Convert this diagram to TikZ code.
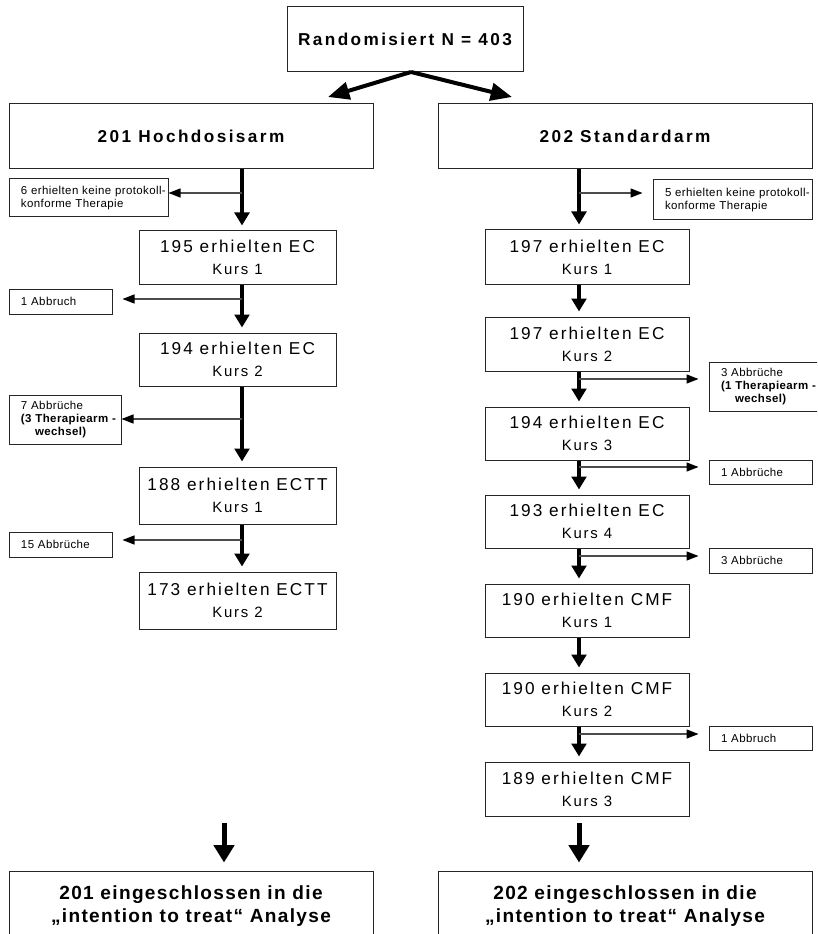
\documentclass[tikz,border=0pt]{standalone}
\usepackage{fontspec}
\setmainfont{Liberation Sans}
\newfontfamily\armfont[LetterSpace=14]{Liberation Sans}
\newfontfamily\stagefont[LetterSpace=12]{Liberation Sans}
\newfontfamily\notefont[LetterSpace=3.5]{Liberation Sans}
\newfontfamily\endfont[LetterSpace=7]{Liberation Sans}
\usetikzlibrary{arrows.meta}

\newcommand\kurs[1]{{\fontsize{11.2}{13}\selectfont Kurs #1}}

\tikzset{
  box/.style={draw=black!85, line width=0.75pt, inner sep=0pt},
  boxsize/.style 2 args={minimum width=#1*0.75pt, minimum height=#2*0.75pt},
  arm/.style={box, align=center, font=\armfont\bfseries\fontsize{12.9}{15}\selectfont},
  stage/.style={box, align=center, font=\stagefont\fontsize{12.9}{16.3}\selectfont},
  note/.style 2 args={box, align=left, inner xsep=9pt, text width=#1,
    minimum height=#2*0.75pt, font=\notefont\fontsize{8.6}{9.6}\selectfont},
  final/.style={box, align=center, font=\endfont\bfseries\fontsize{14.3}{17.3}\selectfont},
  mainarrow/.style={line width=2.8pt, -{Triangle[length=9.75pt,width=11pt]}, shorten >=3.75pt},
  sidearrow/.style={draw=black!70, line width=1pt, -{Triangle[length=9pt,width=6.75pt,color=black]}},
  splitarrow/.style={line width=3pt, -{Triangle[length=16pt,width=13pt]}},
  endarrow/.style={line width=3.75pt, -{Triangle[length=13pt,width=15pt]}, shorten >=6pt}
}

\begin{document}
\begin{tikzpicture}[x=0.75pt,y=-0.75pt]
  \useasboundingbox (0,0) rectangle (817,934);
  \clip (0,0) rectangle (817,934);

  % randomisation
  \node[arm, boxsize={236}{65}] (rand) at (405,39.5) {Randomisiert N = 403};
  \node[arm, boxsize={364}{65}] (hoch) at (191,136.5) {201 Hochdosisarm};
  \node[arm, boxsize={374}{65}] (std) at (625,136.5) {202 Standardarm};
  \coordinate (split) at (411,72);
  \coordinate (toh) at (328,97);
  \coordinate (tos) at (512,97);
  \draw[splitarrow] (split) -- (toh);
  \draw[splitarrow] (split) -- (tos);

  % high dose arm
  \coordinate (lx) at (242,0);
  \node[stage, boxsize={197}{53}] (l1) at (237.5,257.5) {195 erhielten EC\\\kurs{1}};
  \node[stage, boxsize={197}{53}] (l2) at (237.5,359.5) {194 erhielten EC\\\kurs{2}};
  \node[stage, boxsize={197}{57}] (l3) at (237.5,495.5) {188 erhielten ECTT\\\kurs{1}};
  \node[stage, boxsize={197}{57}] (l4) at (237.5,600.5) {173 erhielten ECTT\\\kurs{2}};
  \foreach \a/\b in {hoch/l1, l1/l2, l2/l3, l3/l4}
    \draw[mainarrow] (\a.south -| lx) -- (\b.north -| lx);

  \node[note={101.25pt}{38}] (ls1) at (88.5,198) {\mbox{6 erhielten keine protokoll-}\\konforme Therapie};
  \node[note={59.25pt}{25}] (ls2) at (60.5,301.5) {1 Abbruch};
  \node[note={66pt}{49}] (ls3) at (65,419.5) {7 Abbrüche\\\mbox{\bfseries (3 Therapiearm -}\\\mbox{\hspace*{10.5pt}\bfseries wechsel)}};
  \node[note={59.25pt}{25}] (ls4) at (60.5,544.5) {15 Abbrüche};
  \foreach \y/\n/\g in {193/ls1/0pt, 299/ls2/7.5pt, 419/ls3/0pt, 540/ls4/7.5pt} {
    \coordinate (s\n) at (242,\y);
    \draw[sidearrow, shorten >=\g] (s\n) -- (s\n -| \n.east);
  }

  % standard arm
  \coordinate (rx) at (579,0);
  \node[stage, boxsize={204}{54}] (r1) at (587,257) {197 erhielten EC\\\kurs{1}};
  \node[stage, boxsize={204}{54}] (r2) at (587,344) {197 erhielten EC\\\kurs{2}};
  \node[stage, boxsize={204}{53}] (r3) at (587,433.5) {194 erhielten EC\\\kurs{3}};
  \node[stage, boxsize={204}{53}] (r4) at (587,521.5) {193 erhielten EC\\\kurs{4}};
  \node[stage, boxsize={204}{53}] (r5) at (587,610.5) {190 erhielten CMF\\\kurs{1}};
  \node[stage, boxsize={204}{53}] (r6) at (587,699.5) {190 erhielten CMF\\\kurs{2}};
  \node[stage, boxsize={204}{54}] (r7) at (587,789) {189 erhielten CMF\\\kurs{3}};
  \foreach \a/\b in {std/r1, r1/r2, r2/r3, r3/r4, r4/r5, r5/r6, r6/r7}
    \draw[mainarrow] (\a.south -| rx) -- (\b.north -| rx);

  \node[note={101.25pt}{40}] (rs1) at (732.5,200) {\mbox{5 erhielten keine protokoll-}\\konforme Therapie};
  \node[note={63.75pt}{49}] (rs2) at (763.5,386.5) {3 Abbrüche\\\mbox{\bfseries (1 Therapiearm -}\\\mbox{\hspace*{10.5pt}\bfseries wechsel)}};
  \node[note={59.25pt}{24}] (rs3) at (760.5,472) {1 Abbrüche};
  \node[note={59.25pt}{25}] (rs4) at (760.5,560.5) {3 Abbrüche};
  \node[note={59.25pt}{24}] (rs5) at (760.5,738) {1 Abbruch};
  \foreach \y/\n in {193/rs1, 379/rs2, 467/rs3, 556/rs4, 734/rs5} {
    \coordinate (s\n) at (579,\y);
    \draw[sidearrow, shorten >=7.5pt] (s\n) -- (s\n -| \n.west);
  }

  % intention to treat
  \node[final, boxsize={364}{70}] (lend) at (191,906) {201 eingeschlossen in die\\„intention to treat“ Analyse};
  \node[final, boxsize={374}{70}] (rend) at (625,906) {202 eingeschlossen in die\\„intention to treat“ Analyse};
  \coordinate (lfrom) at (224,823);
  \coordinate (rfrom) at (579,823);
  \draw[endarrow] (lfrom) -- (lfrom |- lend.north);
  \draw[endarrow] (rfrom) -- (rfrom |- rend.north);
\end{tikzpicture}
\end{document}
